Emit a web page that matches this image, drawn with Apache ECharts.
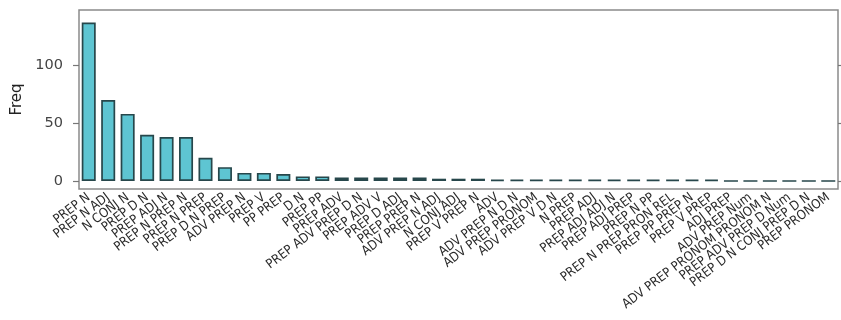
<!DOCTYPE html>
<html>
<head>
<meta charset="utf-8">
<script src="https://cdn.jsdelivr.net/npm/echarts@6/dist/echarts.min.js"></script>
<style>
  html, body { margin: 0; padding: 0; background: #fff; }
  #chart { width: 841px; height: 320px; }
</style>
</head>
<body>
<div id="chart"></div>
<script>
// Frequency of syntactic patterns, sorted from most to least frequent
const patterns = [
  'PREP N', 'PREP N ADJ', 'N CONJ N', 'PREP D N', 'PREP ADJ N',
  'PREP N PREP N', 'PREP N PREP', 'PREP D N PREP', 'ADV PREP N', 'PREP V',
  'PP PREP', 'D N', 'PREP PP', 'PREP ADV', 'PREP ADV PREP D N',
  'PREP ADV V', 'PREP D ADJ', 'PREP PREP N', 'ADV PREP N ADJ', 'N CONJ ADJ',
  'PREP V PREP N', 'ADV', 'ADV PREP N D N', 'ADV PREP PRONOM', 'ADV PREP V D N',
  'N PREP', 'PREP ADJ', 'PREP ADJ ADJ N', 'PREP ADJ PREP', 'PREP N PP',
  'PREP N PREP PRON REL', 'PREP PP PREP N', 'PREP V PREP', 'ADJ PREP', 'ADV PREP Num',
  'ADV PREP PRONOM PRONOM N', 'PREP ADV PREP D Num', 'PREP D N CONJ PREP D N', 'PREP PRONOM'
];
const freq = [
  137, 70, 58, 40, 38,
  38, 20, 12, 7, 7,
  6, 4, 4, 3, 3,
  3, 3, 3, 2, 2,
  2, 1, 1, 1, 1,
  1, 1, 1, 1, 1,
  1, 1, 1, 0, 0,
  0, 0, 0, 0
];
const yTicks = [0, 50, 100];

const chart = echarts.init(document.getElementById('chart'), null, { renderer: 'canvas' });

const yRange = { min: -6.9, max: 147.8 };

chart.setOption({
  animation: false,
  backgroundColor: '#ffffff',
  grid: {
    left: 79, right: 3, top: 10, bottom: 131,
    show: true,
    borderColor: '#8a8a8a',
    borderWidth: 1.5,
    backgroundColor: '#ffffff'
  },
  xAxis: {
    type: 'category',
    data: patterns,
    axisLine: { show: false },
    axisTick: { show: false },
    splitLine: { show: false },
    axisLabel: {
      interval: 0,
      rotate: 37,
      margin: 7,
      fontFamily: "'Liberation Sans Narrow', 'DejaVu Sans Condensed', 'Liberation Sans'",
      fontSize: 13,
      color: '#2a2a2a'
    }
  },
  yAxis: [
    {
      type: 'value',
      min: yRange.min,
      max: yRange.max,
      name: 'Freq',
      nameLocation: 'middle',
      nameRotate: 90,
      nameGap: 54,
      nameTextStyle: { fontFamily: 'DejaVu Sans', fontSize: 15, color: '#222222' },
      axisLine: { show: false },
      splitLine: { show: false },
      axisTick: { show: true, customValues: yTicks, length: 6, lineStyle: { color: '#777777', width: 1.2 } },
      axisLabel: { customValues: yTicks, margin: 16, fontFamily: 'DejaVu Sans', fontSize: 14.5, color: '#444444' }
    },
    {
      type: 'value',
      position: 'right',
      min: yRange.min,
      max: yRange.max,
      axisLine: { show: false },
      splitLine: { show: false },
      axisTick: { show: true, customValues: yTicks, length: 4, lineStyle: { color: '#777777', width: 1.2 } },
      axisLabel: { show: false }
    }
  ],
  series: [{
    type: 'bar',
    data: freq,
    barCategoryGap: '28%',
    itemStyle: {
      color: '#5ec5d2',
      borderColor: '#27474b',
      borderWidth: 1.7
    }
  }]
});
</script>
</body>
</html>
